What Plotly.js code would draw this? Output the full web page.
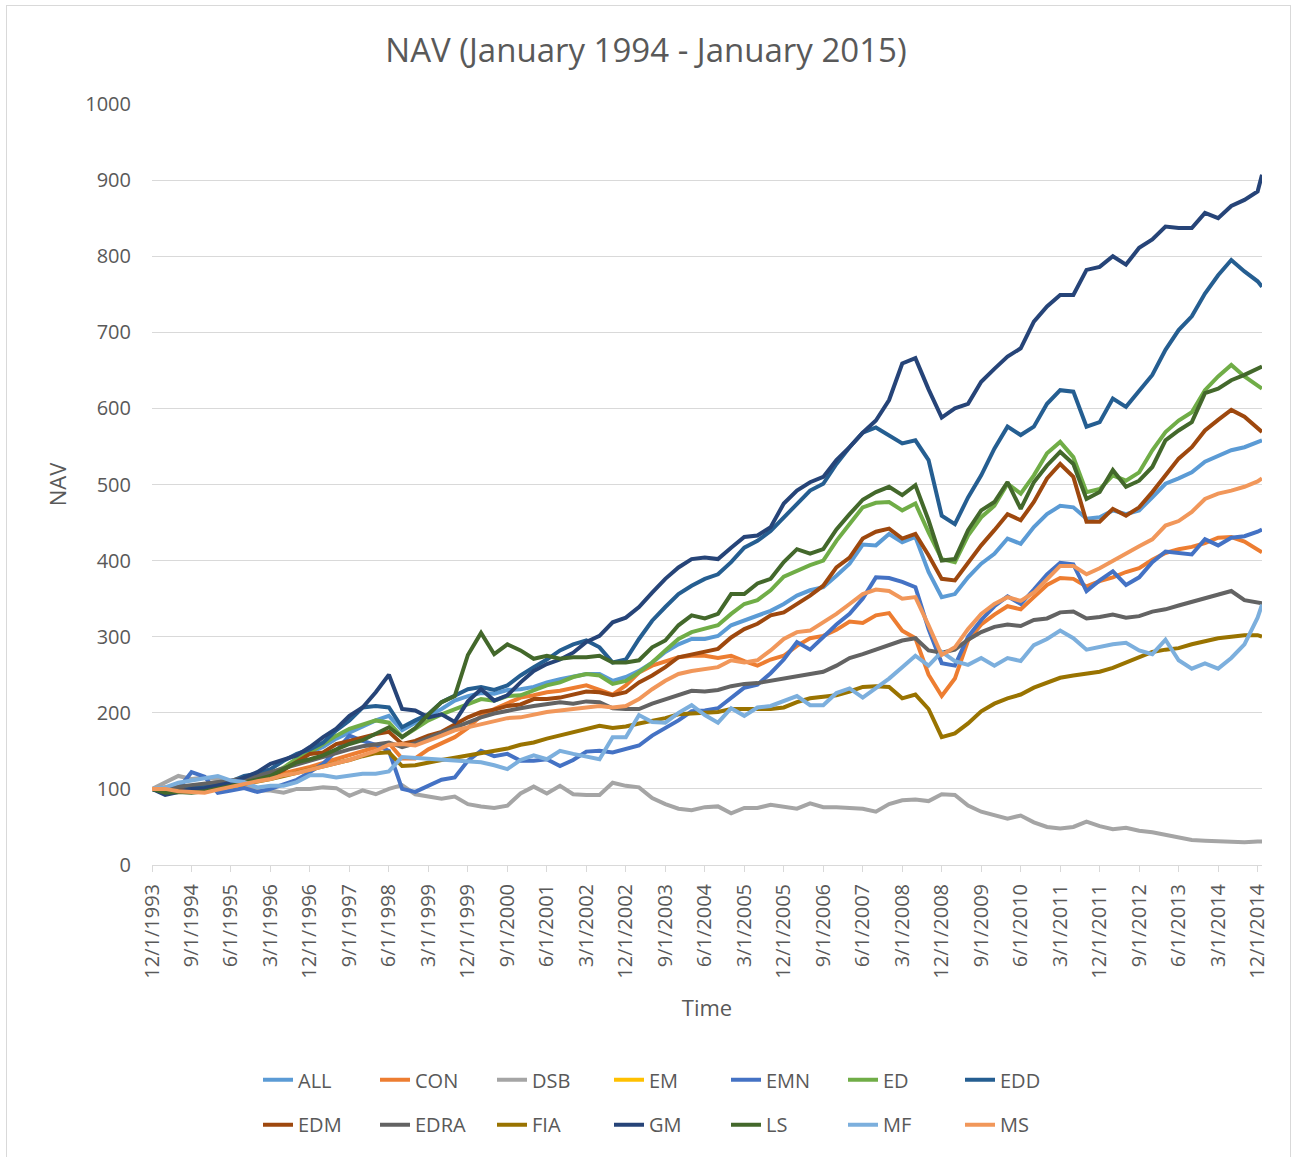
<!DOCTYPE html>
<html><head><meta charset="utf-8">
<script src="https://cdn.plot.ly/plotly-3.0.1.min.js"></script>
<style>
html,body{margin:0;padding:0;background:#fff;}
#chart{position:absolute;left:0;top:0;width:1292px;height:1157px;}
#frame{position:absolute;left:6px;top:5px;width:1285px;height:1160px;border:1px solid #D9D9D9;border-bottom:none;box-sizing:border-box;pointer-events:none;}
</style></head><body>
<div id="chart"></div>
<div id="frame"></div>
<script>
// Tick labels of the category axis (every 9 months)
const tickLabels = ["12/1/1993","9/1/1994","6/1/1995","3/1/1996","12/1/1996","9/1/1997","6/1/1998","3/1/1999","12/1/1999","9/1/2000","6/1/2001","3/1/2002","12/1/2002","9/1/2003","6/1/2004","3/1/2005","12/1/2005","9/1/2006","6/1/2007","3/1/2008","12/1/2008","9/1/2009","6/1/2010","3/1/2011","12/1/2011","9/1/2012","6/1/2013","3/1/2014","12/1/2014"];

// Series values, quarterly from 12/1993 to 12/2014, plus 1/2015
const ALL = [100,97,98,100,101,103,107,111,115,120,127,135,148,155,166,174,183,190,196,177,187,196,205,216,222,226,225,230,
 231,234,240,244,247,251,251,242,247,255,266,280,290,297,297,301,315,321,328,334,343,354,361,365,380,396,421,420,
 435,424,431,385,352,356,378,396,409,429,422,444,461,472,470,455,457,466,461,466,483,501,508,516,530,538,545,549,556,558];
const CON = [100,102,98,97,97,100,104,108,112,116,121,125,129,134,139,145,150,155,160,140,140,152,160,168,180,196,205,212,
 220,223,227,229,232,236,230,224,236,253,262,268,273,275,275,272,275,268,262,270,275,288,298,301,309,320,318,328,
 331,308,298,250,222,245,295,316,329,340,336,352,368,377,376,366,373,378,385,390,401,410,415,418,423,430,431,425,414,411];
const DSB = [100,108,117,113,115,113,109,104,98,98,95,100,100,102,101,91,98,93,100,105,93,90,87,90,80,77,75,78,
 94,103,94,104,93,92,92,108,104,102,88,80,74,72,76,77,68,75,75,79,77,74,81,76,76,75,74,70,
 80,85,86,84,93,92,78,70,66,61,65,56,50,48,50,57,51,47,49,45,43,40,36,33,32,31,31,30,31,31];
const EM = [null]; // no values drawn for EM in the reference
const EMN = [100,95,100,122,116,95,98,101,96,100,106,112,122,133,150,170,163,158,150,100,96,104,112,115,137,150,143,146,
 137,137,139,130,138,149,150,148,153,157,170,180,190,202,203,206,220,233,237,252,270,293,283,300,316,330,350,378,
 377,372,365,310,265,262,300,322,340,353,343,362,382,397,395,360,374,386,368,378,398,412,410,408,428,420,430,432,438,441];
const ED = [100,96,97,98,99,102,106,110,114,120,128,140,148,159,170,179,185,190,187,168,179,190,198,205,212,218,216,222,
 223,229,236,240,247,251,249,238,242,253,266,282,297,306,310,315,330,343,348,361,379,387,394,400,426,448,470,476,
 477,466,475,437,402,398,433,457,472,501,488,512,541,556,536,490,494,512,505,516,545,569,584,595,624,642,657,642,631,626];
const EDD = [100,97,98,102,104,106,110,117,120,126,137,146,152,161,177,190,207,209,207,181,190,198,214,222,231,234,230,236,
 249,260,270,282,290,295,286,266,270,297,321,339,356,367,376,382,398,417,426,439,457,474,492,501,527,549,568,575,
 565,554,558,532,459,448,483,512,547,576,565,576,606,624,622,576,582,613,602,624,644,677,703,721,751,775,795,780,767,760];
const EDM = [100,97,98,98,100,102,105,109,113,117,125,135,146,148,159,163,168,172,175,159,163,170,175,185,194,201,204,209,
 211,218,218,220,224,228,227,223,227,240,249,260,273,277,280,284,299,310,317,328,332,343,354,367,391,404,429,438,
 442,429,435,407,376,374,398,420,440,461,453,477,508,527,510,451,451,468,459,470,490,512,534,549,571,585,598,589,573,569];
const EDRA = [100,100,103,105,106,108,111,114,117,122,127,133,138,143,148,152,156,159,161,155,160,167,174,181,187,194,199,203,
 206,209,212,214,212,215,214,206,205,205,212,218,224,229,228,230,235,238,239,242,246,249,252,254,262,272,277,283,
 288,295,298,282,279,283,296,306,313,316,314,322,324,332,333,324,326,329,325,327,333,336,341,346,351,356,360,348,344,344];
const FIA = [100,97,97,98,99,101,103,106,110,113,117,121,125,129,133,138,143,147,148,130,131,135,138,141,144,147,150,153,
 158,161,166,170,175,179,183,180,182,186,189,193,198,199,200,201,205,205,205,205,207,214,219,221,223,228,234,235,
 234,219,224,205,168,173,186,202,212,219,224,233,240,246,249,251,254,259,266,274,280,283,285,290,294,298,300,302,302,300];
const GM = [100,92,96,100,101,104,108,115,122,133,138,144,155,168,179,196,207,227,250,205,203,194,198,188,215,231,216,223,
 240,255,264,270,279,293,301,319,325,339,358,376,391,402,404,402,417,431,433,444,475,492,503,510,532,549,568,584,
 611,659,666,625,588,600,606,635,652,668,679,714,734,749,749,782,786,800,789,811,822,839,837,837,857,850,866,874,885,907];
const LS = [100,95,96,95,97,100,104,108,112,117,126,135,139,144,152,159,164,172,181,168,180,198,214,222,276,305,277,290,
 282,271,275,271,273,273,275,266,266,269,286,295,315,328,324,330,356,356,370,376,398,415,409,415,441,461,480,490,
 497,486,499,453,400,402,440,466,477,503,468,503,525,543,527,481,490,519,497,505,523,558,571,582,620,626,637,644,652,655];
const MF = [100,102,108,111,113,117,111,109,102,104,104,109,118,118,115,117,120,120,123,142,141,139,139,137,137,135,131,126,
 138,144,139,150,146,142,139,168,168,197,188,187,200,210,197,187,206,196,207,209,215,222,210,210,226,232,220,233,
 245,260,275,262,280,268,263,272,262,272,268,289,297,308,298,283,287,290,292,282,277,296,269,258,265,258,272,290,325,342];
const MS = [100,100,97,96,95,99,103,106,110,113,118,121,125,129,133,138,144,150,158,159,157,163,170,177,181,185,188,193,
 194,198,201,203,205,207,209,207,209,218,231,242,251,255,258,260,269,266,269,282,297,306,308,319,330,343,356,362,
 360,350,352,315,276,286,310,330,343,352,347,358,376,393,393,382,390,400,409,419,428,446,452,464,481,488,492,497,504,508];

const seriesNames = ["ALL","CON","DSB","EM","EMN","ED","EDD","EDM","EDRA","FIA","GM","LS","MF","MS"];
const seriesValues = [ALL,CON,DSB,EM,EMN,ED,EDD,EDM,EDRA,FIA,GM,LS,MF,MS];
const seriesColors = ["#5B9BD5","#ED7D31","#A5A5A5","#FFC000","#4472C4","#70AD47","#255E91","#9E480E","#636363","#997300","#264478","#43682B","#7CAFDD","#F1975A"];

// month offsets from 12/1993 for each sample (quarterly, then the final month)
const months = [];
for (let q = 0; q <= 84; q++) months.push(q * 3);
months.push(253);
const tickPos = tickLabels.map((_, i) => i * 9);

const traces = seriesNames.map((n, i) => ({
  type: 'scatter', mode: 'lines', name: n,
  x: months.slice(0, seriesValues[i].length), y: seriesValues[i],
  line: {color: seriesColors[i], width: 4},
  legend: i < 7 ? 'legend' : 'legend2',
  hoverinfo: 'skip'
}));

const textColor = '#595959';
const layout = {
  width: 1292, height: 1157,
  margin: {l: 152, r: 30, t: 104, b: 292},
  paper_bgcolor: 'rgba(0,0,0,0)', plot_bgcolor: 'rgba(0,0,0,0)',
  font: {family: '"Open Sans", sans-serif', color: textColor, size: 20},
  title: {text: 'NAV (January 1994 - January 2015)', font: {size: 33, color: textColor},
          x: 0.5, xref: 'container', xanchor: 'center', y: 1 - 50/1157, yref: 'container', yanchor: 'middle'},
  xaxis: {range: [0, 253], tickmode: 'array', tickvals: tickPos, ticktext: tickLabels, tickangle: -90,
          ticks: 'outside', ticklen: 6, tickcolor: '#D9D9D9', tickwidth: 1,
          showline: true, linecolor: '#D9D9D9', linewidth: 1, showgrid: false, zeroline: false,
          tickfont: {size: 20, color: textColor}, ticklabelstandoff: 4, automargin: false,
          title: {text: 'Time', font: {size: 22, color: textColor}, standoff: 22}},
  yaxis: {range: [0, 1000], tick0: 0, dtick: 100, showgrid: true, gridcolor: '#D9D9D9', gridwidth: 1,
          zeroline: false, showline: false, ticks: '', tickfont: {size: 20, color: textColor},
          ticklabelstandoff: 20, automargin: false,
          title: {text: 'NAV', font: {size: 22, color: textColor}, standoff: 12}},
  legend: {orientation: 'h', x: 0.0955, xanchor: 'left', y: -0.2822, yanchor: 'middle',
           entrywidth: 72, font: {size: 20, color: textColor}, bgcolor: 'rgba(0,0,0,0)', traceorder: 'normal'},
  legend2: {orientation: 'h', x: 0.0955, xanchor: 'left', y: -0.3412, yanchor: 'middle',
           entrywidth: 72, font: {size: 20, color: textColor}, bgcolor: 'rgba(0,0,0,0)', traceorder: 'normal'},
  showlegend: true
};

Plotly.newPlot('chart', traces, layout, {staticPlot: true, displayModeBar: false});
</script>
</body></html>
